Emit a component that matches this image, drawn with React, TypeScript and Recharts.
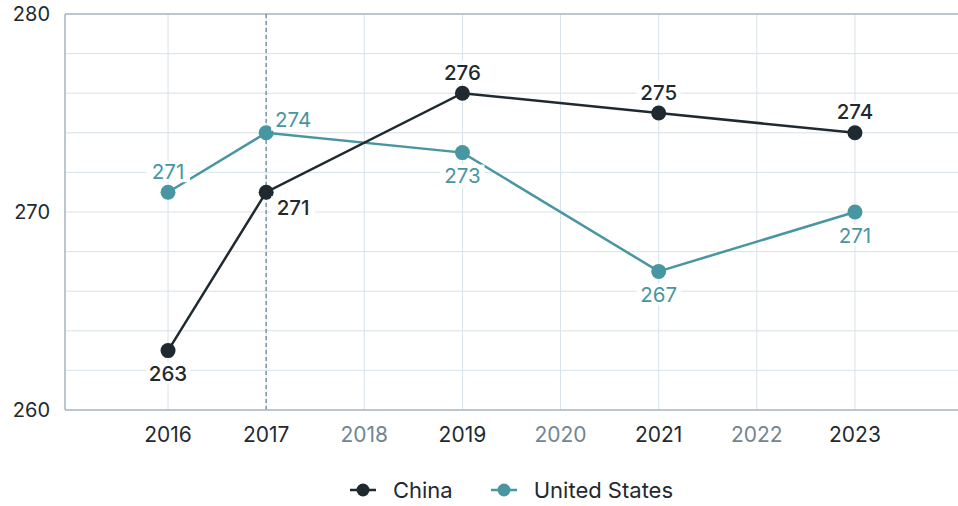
import { LineChart, Line, XAxis, YAxis, CartesianGrid, ReferenceLine, Legend, LabelList } from "recharts";

const years = [2016, 2017, 2019, 2021, 2023];
const chinaScores = [263, 271, 276, 275, 274];
const usScores = [271, 274, 273, 267, 270];
const chinaLabels = ["263", "271", "276", "275", "274"];
const usLabels = ["271", "274", "273", "267", "271"];

const xTicks = [2016, 2017, 2018, 2019, 2020, 2021, 2022, 2023];
const mutedYears = [2018, 2020, 2022];
const yTicks = [260, 270, 280];
const yGrid = [262, 264, 266, 268, 270, 272, 274, 276, 278];
const markerYear = 2017;

const DARK = "#1f2a30";
const TEAL = "#4896a1";
const GRID = "#d6e2ea";
const AXIS = "#a5b5c0";
const FONT = "Inter, 'Noto Sans', sans-serif";

const data = years.map((year, i) => ({
  year,
  china: chinaScores[i],
  us: usScores[i],
  chinaLabel: chinaLabels[i],
  usLabel: usLabels[i],
}));

function makeLabel(key: "china" | "us", other: "china" | "us", textKey: "chinaLabel" | "usLabel", color: string, weight: number) {
  return (props: any) => {
    const { x, y, index } = props;
    const row: any = data[index];
    if (!row) return null;
    const upper = row[key] > row[other];
    const atMarker = row.year === markerYear;
    const dx = atMarker ? 27 : 0;
    const dy = upper ? (atMarker ? -13 : -21) : atMarker ? 15 : 23;
    const cx = x + dx;
    const cy = y + dy;
    return (
      <g>
        <rect x={cx - 22} y={cy - 11} width={44} height={22} fill="#fff" />
        <text x={cx} y={cy} textAnchor="middle" dominantBaseline="central" fill={color} fontSize={20.5} fontWeight={weight} fontFamily={FONT}>
          {row[textKey]}
        </text>
      </g>
    );
  };
}

const XTick = (props: any) => {
  const { x, y, payload } = props;
  const muted = mutedYears.includes(payload.value);
  return (
    <text x={x} y={y + 16} textAnchor="middle" dominantBaseline="central" fill={muted ? "#71868f" : DARK} fontSize={21} fontFamily={FONT}>
      {payload.value}
    </text>
  );
};

const YTick = (props: any) => {
  const { y, payload } = props;
  return (
    <text x={50} y={y} textAnchor="end" dominantBaseline="central" fill={DARK} fontSize={20} fontFamily={FONT}>
      {payload.value}
    </text>
  );
};

const legendItems = [
  { name: "China", color: DARK },
  { name: "United States", color: TEAL },
];

const LegendContent = () => (
  <div style={{ height: 56, display: "flex", justifyContent: "center", alignItems: "center", paddingTop: 24, boxSizing: "border-box", fontFamily: FONT, fontSize: 22, color: DARK }}>
    {legendItems.map((item, i) => (
      <div key={item.name} style={{ display: "flex", alignItems: "center", marginLeft: i ? 38 : 0 }}>
        <svg width={26} height={16} style={{ marginRight: 17 }}>
          <line x1={0} y1={8} x2={26} y2={8} stroke={item.color} strokeWidth={2.5} />
          <circle cx={13} cy={8} r={6.5} fill={item.color} />
        </svg>
        <span>{item.name}</span>
      </div>
    ))}
  </div>
);

export default function App() {
  return (
    <div style={{ position: "absolute", left: 0, top: 0, width: 958, height: 506, background: "#fff" }}>
      <LineChart width={958} height={506} data={data} margin={{ top: 14, right: 0, left: 0, bottom: 0 }}>
        <CartesianGrid stroke={GRID} horizontalValues={yGrid} verticalValues={xTicks} />
        <XAxis
          type="number"
          dataKey="year"
          domain={[2014.95, 2024.05]}
          ticks={xTicks}
          allowDataOverflow
          height={40}
          tickLine={false}
          axisLine={{ stroke: AXIS, strokeWidth: 1.5 }}
          tick={<XTick />}
        />
        <YAxis
          domain={[260, 280]}
          ticks={yTicks}
          width={65}
          tickLine={false}
          axisLine={{ stroke: AXIS, strokeWidth: 1.5 }}
          tick={<YTick />}
        />
        <ReferenceLine y={280} stroke={AXIS} strokeWidth={1.5} />
        <ReferenceLine x={markerYear} stroke="#7f95a3" strokeDasharray="4 3" strokeWidth={1.5} />
        <Line dataKey="us" stroke={TEAL} strokeWidth={2.5} dot={{ r: 7.5, fill: TEAL, stroke: "none" }} activeDot={false} isAnimationActive={false}>
          <LabelList dataKey="us" content={makeLabel("us", "china", "usLabel", TEAL, 400)} />
        </Line>
        <Line dataKey="china" stroke={DARK} strokeWidth={2.5} dot={{ r: 7.5, fill: DARK, stroke: "none" }} activeDot={false} isAnimationActive={false}>
          <LabelList dataKey="china" content={makeLabel("china", "us", "chinaLabel", DARK, 500)} />
        </Line>
        <Legend verticalAlign="bottom" content={<LegendContent />} wrapperStyle={{ left: 65, width: 893, bottom: 0 }} />
      </LineChart>
    </div>
  );
}
